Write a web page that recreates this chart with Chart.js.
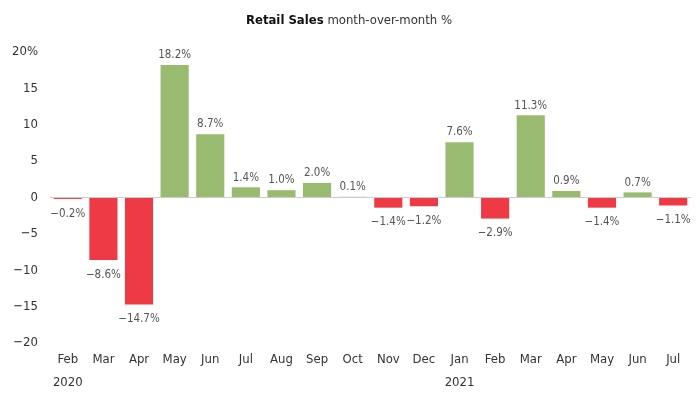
<!DOCTYPE html>
<html>
<head>
<meta charset="utf-8">
<script src="https://cdn.jsdelivr.net/npm/chart.js@4"></script>
<style>
  body { margin: 0; background: #fff; }
  #wrap { width: 699px; height: 399px; position: relative; }
</style>
</head>
<body>
<div id="wrap"><canvas id="myChart"></canvas></div>
<script>
const months = ['Feb','Mar','Apr','May','Jun','Jul','Aug','Sep','Oct','Nov','Dec','Jan','Feb','Mar','Apr','May','Jun','Jul'];
const years = ['2020','','','','','','','','','','','2021','','','','','',''];
const changes = [-0.2, -8.6, -14.7, 18.2, 8.7, 1.4, 1.0, 2.0, 0.1, -1.4, -1.2, 7.6, -2.9, 11.3, 0.9, -1.4, 0.7, -1.1];
const yTicks = [-20, -15, -10, -5, 0, 5, 10, 15, 20];

const FONT = '"Liberation Sans Narrow", "DejaVu Sans Condensed", "Roboto", sans-serif';
const GREEN = '#98bb6f';
const RED = '#ee3a45';

// minus sign like the original
function fmt(v) {
  return v < 0 ? '\u2212' + Math.abs(v) : String(v);
}

// draw the value over / under each bar
const valueLabels = {
  id: 'valueLabels',
  afterDatasetsDraw(chart) {
    const ctx = chart.ctx;
    const meta = chart.getDatasetMeta(0);
    ctx.save();
    ctx.font = '11.5px ' + FONT;
    ctx.fillStyle = '#555';
    ctx.textAlign = 'center';
    meta.data.forEach((bar, i) => {
      const v = changes[i];
      const txt = fmt(v.toFixed(1)) + '%';
      if (v >= 0) {
        ctx.textBaseline = 'bottom';
        ctx.fillText(txt, bar.x, bar.y - 4);
      } else {
        ctx.textBaseline = 'top';
        ctx.fillText(txt, bar.x, bar.y + 9);
      }
    });
    ctx.restore();
  }
};

// title with bold + normal part
const titlePlugin = {
  id: 'titlePlugin',
  afterDraw(chart) {
    const ctx = chart.ctx;
    ctx.save();
    const bold = 'Retail Sales';
    const rest = ' month-over-month %';
    ctx.font = 'bold 13px ' + FONT;
    const w1 = ctx.measureText(bold).width;
    ctx.font = '13px ' + FONT;
    const w2 = ctx.measureText(rest).width;
    const x0 = 349 - (w1 + w2) / 2;
    ctx.textBaseline = 'middle';
    ctx.fillStyle = '#111';
    ctx.font = 'bold 13px ' + FONT;
    ctx.fillText(bold, x0, 21);
    ctx.fillStyle = '#333';
    ctx.font = '13px ' + FONT;
    ctx.fillText(rest, x0 + w1, 21);
    ctx.restore();
  }
};

const data = {
  labels: months.map((m, i) => [m, years[i]]),
  datasets: [{
    data: changes,
    backgroundColor: changes.map(v => v >= 0 ? GREEN : RED),
    barPercentage: 0.79,
    categoryPercentage: 1.0
  }]
};

const config = {
  type: 'bar',
  data: data,
  options: {
    responsive: true,
    maintainAspectRatio: false,
    animation: false,
    layout: { padding: { top: 52, right: 8, bottom: 0, left: 0 } },
    plugins: {
      legend: { display: false },
      tooltip: { enabled: false }
    },
    scales: {
      x: {
        grid: { display: false, drawTicks: false },
        border: { display: false },
        ticks: {
          font: { family: FONT, size: 13, lineHeight: 1.77 },
          color: '#333',
          maxRotation: 0,
          autoSkip: false,
          padding: 5
        }
      },
      y: {
        min: -20,
        max: 20,
        afterBuildTicks(scale) {
          scale.ticks = yTicks.map(v => ({ value: v }));
        },
        grid: {
          color: c => c.tick && c.tick.value === 0 ? '#cccccc' : 'rgba(0,0,0,0)',
          drawTicks: false
        },
        border: { display: false },
        ticks: {
          font: { family: FONT, size: 13 },
          color: '#333',
          padding: 12,
          callback: v => v === 20 ? '20%' : fmt(v)
        }
      }
    }
  },
  plugins: [valueLabels, titlePlugin]
};

const myChart = new Chart(document.getElementById('myChart'), config);
</script>
</body>
</html>
